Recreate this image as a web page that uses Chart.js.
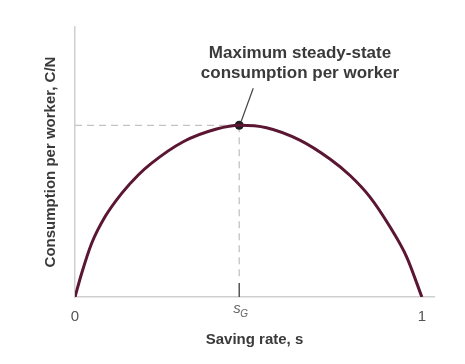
<!DOCTYPE html>
<html>
<head>
<meta charset="utf-8">
<script src="https://cdn.jsdelivr.net/npm/chart.js@4/dist/chart.umd.min.js"></script>
<style>
html, body { margin: 0; padding: 0; background: #fff; }
</style>
</head>
<body>
<canvas id="chart" width="465" height="364"></canvas>
<script>
// valeurs (s, C/N en unités relatives)
const savingRate  = [0, 0.0193, 0.0481, 0.0865, 0.1346, 0.1824, 0.22, 0.312, 0.408, 0.4735, 0.552, 0.648, 0.735, 0.793, 0.85, 0.908, 0.956, 1];
const consumption = [0, 0.088, 0.199, 0.297, 0.384, 0.452, 0.495, 0.575, 0.622, 0.636, 0.627, 0.581, 0.511, 0.45, 0.371, 0.26, 0.149, 0];
const goldenRate = 0.4735;
const maxConsumption = 0.636;
const xTicks = [0, goldenRate, 1];
const xTickLabels = ['0', '', '1'];
const noteLines = ['Maximum steady-state', 'consumption per worker'];

const FONT = '"Liberation Sans", Arial, Helvetica, sans-serif';

const guides = {
    id: 'guides',
    beforeDatasetsDraw(chart) {
        const ctx = chart.ctx;
        const x = chart.scales.x, y = chart.scales.y;
        const px = x.getPixelForValue(goldenRate);
        const py = y.getPixelForValue(maxConsumption);
        const bottom = y.getPixelForValue(0);
        ctx.save();
        ctx.strokeStyle = '#c4c4c4';
        ctx.lineWidth = 1.3;
        ctx.setLineDash([7, 5]);
        ctx.beginPath();
        ctx.moveTo(x.getPixelForValue(0), py);
        ctx.lineTo(px, py);
        ctx.moveTo(px, py);
        ctx.lineTo(px, bottom - 16);
        ctx.stroke();
        ctx.setLineDash([]);
        ctx.strokeStyle = '#555';
        ctx.lineWidth = 1.5;
        ctx.beginPath();
        ctx.moveTo(px, bottom - 14);
        ctx.lineTo(px, bottom);
        ctx.stroke();
        ctx.restore();
    },
    afterDatasetsDraw(chart) {
        const ctx = chart.ctx;
        const x = chart.scales.x, y = chart.scales.y;
        const px = x.getPixelForValue(goldenRate);
        const py = y.getPixelForValue(maxConsumption);
        const bottom = y.getPixelForValue(0);
        ctx.save();
        // trait vers la note
        ctx.strokeStyle = '#444';
        ctx.lineWidth = 1.2;
        ctx.beginPath();
        ctx.moveTo(px + 2, py - 4);
        ctx.lineTo(px + 14, py - 37);
        ctx.stroke();
        // note
        ctx.fillStyle = '#3a3a3a';
        ctx.font = 'bold 17px ' + FONT;
        ctx.textAlign = 'center';
        ctx.textBaseline = 'middle';
        ctx.fillText(noteLines[0], 300, 53);
        ctx.fillText(noteLines[1], 300, 73);
        // étiquette s_G
        ctx.fillStyle = '#666';
        ctx.textAlign = 'left';
        ctx.textBaseline = 'alphabetic';
        ctx.font = 'italic 15px ' + FONT;
        ctx.fillText('s', px - 6, bottom + 16);
        ctx.font = 'italic 10px ' + FONT;
        ctx.fillText('G', px + 1, bottom + 20);
        ctx.restore();
    }
};

new Chart(document.getElementById('chart'), {
    type: 'line',
    data: {
        datasets: [
            {
                data: savingRate.map((s, i) => ({ x: s, y: consumption[i] })),
                borderColor: '#5a1632',
                borderWidth: 3,
                pointRadius: 0,
                fill: false,
                cubicInterpolationMode: 'monotone'
            },
            {
                data: [{ x: goldenRate, y: maxConsumption }],
                showLine: false,
                pointRadius: 4.5,
                pointBackgroundColor: '#1e1e1e',
                pointBorderWidth: 0
            }
        ]
    },
    options: {
        responsive: false,
        animation: false,
        layout: { padding: { top: 27, right: 31, left: 0, bottom: 0 } },
        plugins: { legend: { display: false }, tooltip: { enabled: false } },
        scales: {
            x: {
                type: 'linear',
                min: 0,
                max: 1.035,
                afterBuildTicks: (scale) => { scale.ticks = xTicks.map(v => ({ value: v })); },
                ticks: {
                    callback: (v, i) => xTickLabels[i],
                    color: '#555',
                    font: { family: FONT, size: 15 },
                    padding: 11,
                    maxRotation: 0
                },
                grid: { display: false, drawTicks: false },
                border: { color: '#cfcfcf', width: 1.5 },
                title: {
                    display: true,
                    text: 'Saving rate, s',
                    color: '#3a3a3a',
                    font: { family: FONT, size: 15, weight: 'bold' },
                    padding: { top: -6, bottom: 15 }
                }
            },
            y: {
                min: 0,
                max: 1,
                ticks: { display: false },
                grid: { display: false, drawTicks: false },
                border: { color: '#cfcfcf', width: 1.5 },
                title: {
                    display: true,
                    text: 'Consumption per worker, C/N',
                    color: '#3a3a3a',
                    font: { family: FONT, size: 15, weight: 'bold' },
                    padding: { top: 42, bottom: 15 }
                }
            }
        }
    },
    plugins: [guides]
});
</script>
</body>
</html>
